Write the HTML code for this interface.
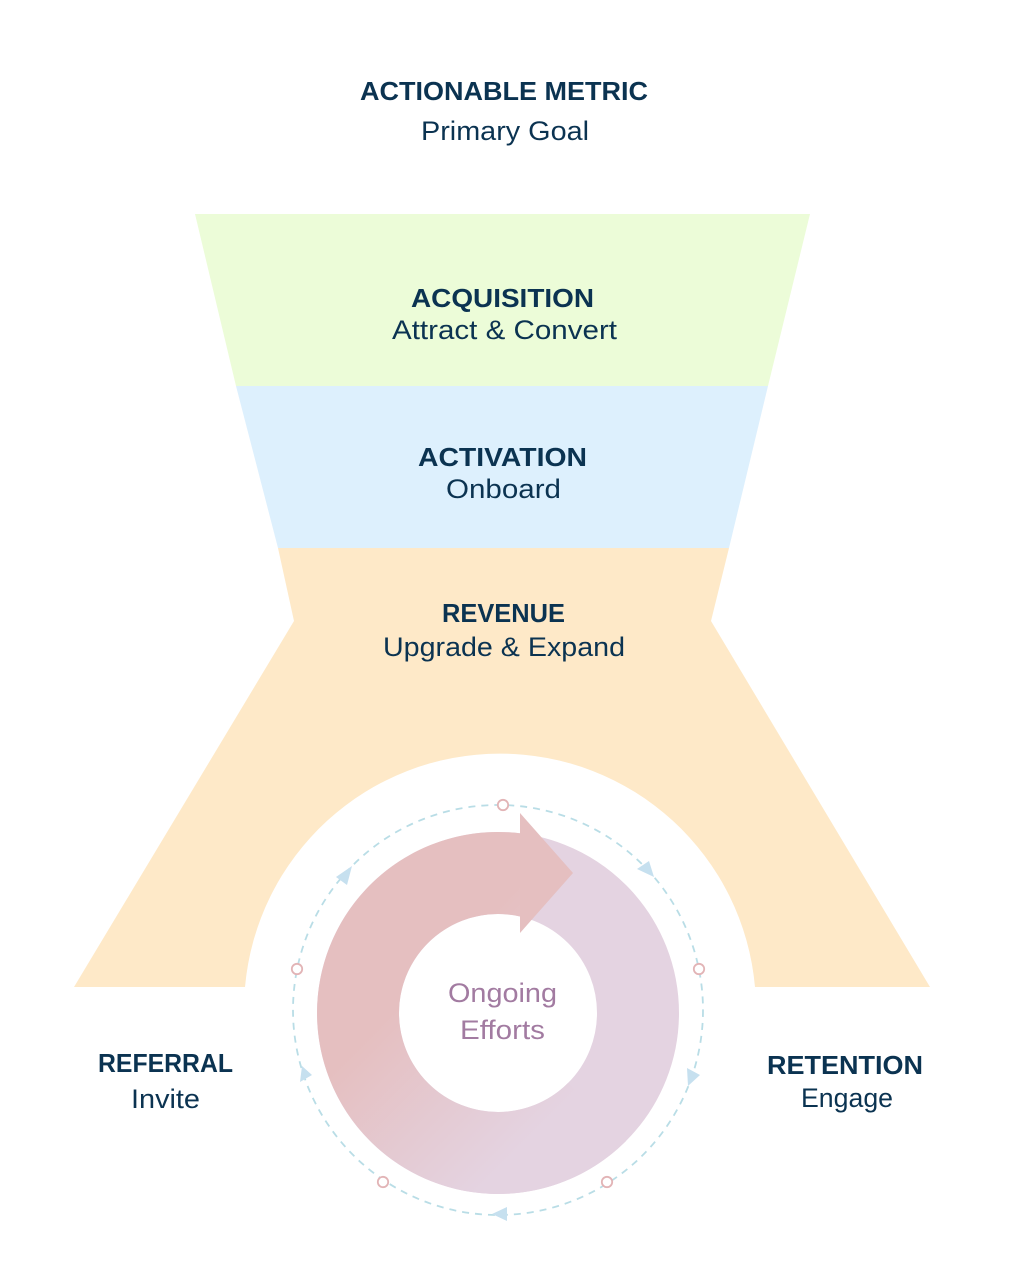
<!DOCTYPE html>
<html>
<head>
<meta charset="utf-8">
<style>
  html,body{margin:0;padding:0;background:#ffffff;}
  body{width:1016px;height:1270px;overflow:hidden;}
  svg{display:block;}
  .b{font-family:"Liberation Sans",sans-serif;font-weight:bold;font-size:26px;fill:#0b3351;}
  .r{font-family:"Liberation Sans",sans-serif;font-weight:normal;font-size:27px;fill:#0b3351;}
  .p{font-family:"Liberation Sans",sans-serif;font-weight:normal;font-size:27px;fill:#a27ba1;}
</style>
</head>
<body>
<svg width="1016" height="1270" viewBox="0 0 1016 1270" xmlns="http://www.w3.org/2000/svg">
  <defs>
    <linearGradient id="g" gradientUnits="userSpaceOnUse" x1="360" y1="900" x2="600" y2="1140">
      <stop offset="0.3" stop-color="#e5bfc0"/>
      <stop offset="0.85" stop-color="#e4d3e1"/>
    </linearGradient>
  </defs>

  <!-- funnel bands -->
  <path d="M195,214 L810,214 L768,386 L236,386 Z" fill="#ecfcd8"/>
  <path d="M236,386 L768,386 L729,548 L278,548 Z" fill="#ddf0fd"/>
  <path d="M278,548 L729,548 L711,621 L930,987 L755,987 A256,256 0 0 0 245,987 L74,987 L294,621 Z" fill="#fee9c8"/>

  <!-- donut base (lavender) -->
  <circle cx="498" cy="1013" r="140" fill="none" stroke="#e4d3e1" stroke-width="82"/>
  <!-- pink arrow body -->
  <path d="M520,833.3 A181,181 0 1 0 626,1141 L568,1083 A99,99 0 1 1 520,916.5 Z" fill="url(#g)"/>
  <!-- arrow head -->
  <polygon points="520,813 573,873 520,933" fill="#e5bfc0"/>

  <!-- dashed loop -->
  <circle cx="498" cy="1010" r="205" fill="none" stroke="#b9dde6" stroke-width="1.8" stroke-dasharray="7 6"/>
  <!-- loop arrowheads -->
  <polygon points="352,866 336,877 347,885" fill="#c6e0ef"/>
  <polygon points="654,877 637,869 649,861" fill="#c6e0ef"/>
  <polygon points="700,1075 687,1068 688,1086" fill="#c6e0ef"/>
  <polygon points="302,1066 300,1082 312,1075" fill="#c6e0ef"/>
  <polygon points="492,1214 507,1207 507,1221" fill="#c6e0ef"/>
  <!-- markers -->
  <g fill="#ffffff" stroke="#e2b4b6" stroke-width="1.8">
    <circle cx="503" cy="805" r="5.2"/>
    <circle cx="297" cy="969" r="5.2"/>
    <circle cx="699" cy="969" r="5.2"/>
    <circle cx="383" cy="1182" r="5.2"/>
    <circle cx="607" cy="1182" r="5.2"/>
  </g>

  <!-- text -->
  <text class="b" x="504" y="100" text-anchor="middle" textLength="288" lengthAdjust="spacingAndGlyphs">ACTIONABLE METRIC</text>
  <text class="r" x="505" y="140" text-anchor="middle" textLength="168" lengthAdjust="spacingAndGlyphs">Primary Goal</text>

  <text class="b" x="502.5" y="307" text-anchor="middle" textLength="183" lengthAdjust="spacingAndGlyphs">ACQUISITION</text>
  <text class="r" x="504.5" y="339" text-anchor="middle" textLength="225" lengthAdjust="spacingAndGlyphs">Attract &amp; Convert</text>

  <text class="b" x="502.5" y="466" text-anchor="middle" textLength="169" lengthAdjust="spacingAndGlyphs">ACTIVATION</text>
  <text class="r" x="503.5" y="498" text-anchor="middle" textLength="115" lengthAdjust="spacingAndGlyphs">Onboard</text>

  <text class="b" x="503.5" y="622" text-anchor="middle" textLength="123" lengthAdjust="spacingAndGlyphs">REVENUE</text>
  <text class="r" x="504" y="656" text-anchor="middle" textLength="242" lengthAdjust="spacingAndGlyphs">Upgrade &amp; Expand</text>

  <text class="b" x="165.5" y="1072" text-anchor="middle" textLength="135" lengthAdjust="spacingAndGlyphs">REFERRAL</text>
  <text class="r" x="165.5" y="1108" text-anchor="middle" textLength="69" lengthAdjust="spacingAndGlyphs">Invite</text>

  <text class="b" x="845" y="1074" text-anchor="middle" textLength="156" lengthAdjust="spacingAndGlyphs">RETENTION</text>
  <text class="r" x="847" y="1107" text-anchor="middle" textLength="92" lengthAdjust="spacingAndGlyphs">Engage</text>

  <text class="p" x="502.5" y="1002" text-anchor="middle" textLength="109" lengthAdjust="spacingAndGlyphs">Ongoing</text>
  <text class="p" x="502.5" y="1039" text-anchor="middle" textLength="85" lengthAdjust="spacingAndGlyphs">Efforts</text>
</svg>
</body>
</html>
